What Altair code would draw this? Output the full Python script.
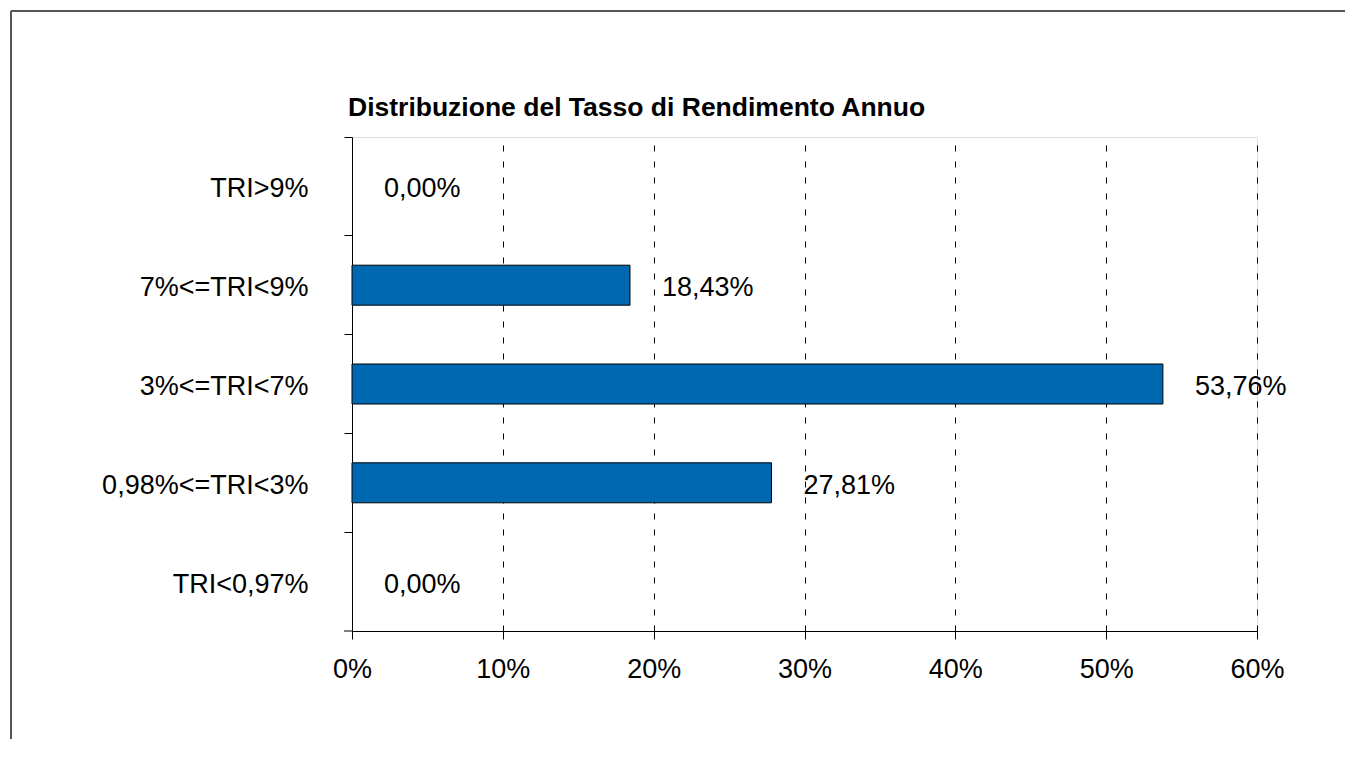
import altair as alt
import pandas as pd

categories = ["TRI>9%", "7%<=TRI<9%", "3%<=TRI<7%", "0,98%<=TRI<3%", "TRI<0,97%"]
values = [0.00, 18.43, 53.76, 27.81, 0.00]
x_ticks = [0, 10, 20, 30, 40, 50, 60]
title_text = "Distribuzione del Tasso di Rendimento Annuo"

df = pd.DataFrame({
    "cat": categories,
    "val": values,
    "label": [f"{v:.2f}%".replace(".", ",") for v in values],
})
one = pd.DataFrame({"t": [title_text]})

FONT = "Liberation Sans"
W, H = 905, 494
BAR_H = 40

x_enc = alt.X("val:Q",
              scale=alt.Scale(domain=[0, 60], nice=False, zero=True),
              axis=alt.Axis(values=x_ticks, labelExpr="datum.value + '%'", title=None,
                            grid=True, gridColor="black", gridDash=[6, 10], gridWidth=1,
                            domainColor="black", domainWidth=1, tickColor="black",
                            tickSize=8, labelFontSize=27, labelPadding=17,
                            labelFlush=False, labelColor="black", labelFont=FONT))
y_enc = alt.Y("cat:N", sort=categories,
              scale=alt.Scale(paddingInner=0, paddingOuter=0),
              axis=alt.Axis(title=None, bandPosition=0,
                            tickSize=8, tickColor="black",
                            domainColor="black", labelFontSize=27, labelPadding=36,
                            labelLimit=500, labelOffset=3,
                            labelColor="black", labelFont=FONT, grid=False))

bars = alt.Chart(df).mark_bar(color="#0067B1", stroke="black", strokeWidth=1,
                              height=BAR_H).encode(
    x=x_enc, y=y_enc,
    strokeOpacity=alt.condition("datum.val > 0", alt.value(1), alt.value(0)))

texts = alt.Chart(df).mark_text(align="left", baseline="middle", dx=32, dy=3, fontSize=27,
                                font=FONT, color="black").encode(
    x="val:Q", y=alt.Y("cat:N", sort=categories), text="label:N")

title = alt.Chart(one).mark_text(align="left", baseline="alphabetic", fontSize=26.5,
                                 fontWeight="bold", font=FONT, color="black").encode(
    x=alt.value(-4), y=alt.value(-21), text="t:N")

# bottom-left tick of the category axis
extra_tick = alt.Chart(one).mark_rule(color="black", strokeWidth=1).encode(
    x=alt.value(-8), x2=alt.value(0), y=alt.value(H))

# frame around the picture
frame_top = alt.Chart(one).mark_rule(color="#555555", strokeWidth=2).encode(
    x=alt.value(-341), x2=alt.value(1010), y=alt.value(-126))
frame_left = alt.Chart(one).mark_rule(color="#555555", strokeWidth=2).encode(
    x=alt.value(-341), y=alt.value(-126), y2=alt.value(700))

chart = alt.layer(frame_top, frame_left, bars, texts, title, extra_tick).properties(
    width=W, height=H,
    autosize=alt.AutoSizeParams(type="none"),
    padding={"left": 344, "top": 129, "right": 88, "bottom": 108},
).configure_view(
    stroke="transparent", strokeOpacity=0, strokeWidth=0
).configure_axisY(grid=False).configure(background="white")

chart.save("out.html", embed_options={"renderer": "svg", "actions": False})
